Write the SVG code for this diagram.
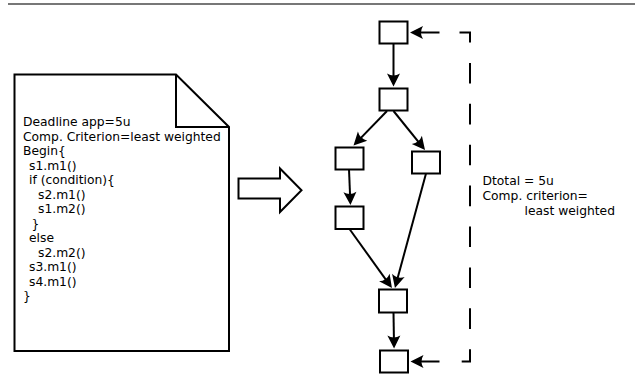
<svg xmlns="http://www.w3.org/2000/svg" width="643" height="378" viewBox="0 0 643 378">
<style>
.ln{fill:none;stroke:#000;stroke-width:2}
.nd{fill:#fff;stroke:#000;stroke-width:2}
.tx{font-family:"DejaVu Sans",sans-serif;font-size:12.3px;fill:#000}
</style>
<defs>
<marker id="ah" markerUnits="userSpaceOnUse" orient="auto" refX="0" refY="0" markerWidth="20" markerHeight="20" overflow="visible">
<path d="M4,0 L-9,-6.5 Q-5,0 -9,6.5 Z" fill="#000"/>
</marker>
</defs>
<rect x="8" y="3" width="627" height="2" fill="#777"/>
<g id="document">
<path class="nd" d="M14.5,74.5 H176 L229,127 V351 H14.5 Z"/>
<path class="ln" d="M176,74.5 V127 H229"/>
<text class="tx" x="23" y="126">Deadline app=5u</text>
<text class="tx" x="23" y="140.5">Comp. Criterion=least weighted</text>
<text class="tx" x="23" y="155">Begin{</text>
<text class="tx" x="29" y="169.5">s1.m1()</text>
<text class="tx" x="29" y="184">if (condition){</text>
<text class="tx" x="38" y="198.5">s2.m1()</text>
<text class="tx" x="38" y="213">s1.m2()</text>
<text class="tx" x="31.5" y="227.5">}</text>
<text class="tx" x="29" y="242">else</text>
<text class="tx" x="38" y="256.5">s2.m2()</text>
<text class="tx" x="29" y="271">s3.m1()</text>
<text class="tx" x="29" y="285.5">s4.m1()</text>
<text class="tx" x="23" y="300">}</text>
</g>
<g id="transform-arrow">
<path class="nd" d="M238.5,178.5 H280 V168.5 L301.5,190.3 L280,212 V198.5 H238.5 Z"/>
</g>
<g id="n1"><rect class="nd" x="379.5" y="21.5" width="28" height="22"/></g>
<g id="n2"><rect class="nd" x="379.5" y="88.5" width="28" height="22"/></g>
<g id="n3"><rect class="nd" x="335.5" y="147.5" width="28" height="22"/></g>
<g id="n4"><rect class="nd" x="412" y="151.5" width="28" height="22"/></g>
<g id="n5"><rect class="nd" x="335.5" y="206.5" width="28" height="22.5"/></g>
<g id="n6"><rect class="nd" x="379" y="289.5" width="28" height="23"/></g>
<g id="n7"><rect class="nd" x="380" y="350.5" width="28" height="22"/></g>
<g id="connectors">
<path class="ln" marker-end="url(#ah)" d="M393.5,43.5 L393.5,82.5"/>
<path class="ln" marker-end="url(#ah)" d="M387,111 L356.3,142.6"/>
<path class="ln" marker-end="url(#ah)" d="M393.5,111 L422.5,146.9"/>
<path class="ln" marker-end="url(#ah)" d="M349,169.5 L350.3,201"/>
<path class="ln" marker-end="url(#ah)" d="M426,173.5 L396,284.1"/>
<path class="ln" marker-end="url(#ah)" d="M349.5,229 L389.6,284.8"/>
<path class="ln" marker-end="url(#ah)" d="M393.5,312.5 L394,344.5"/>
<path class="ln" marker-end="url(#ah)" d="M439.5,32.5 L414,32.5"/>
<path class="ln" marker-end="url(#ah)" d="M439.5,361.5 L414.5,361.5"/>
</g>
<g id="deadline-bracket">
<path class="ln" stroke-dasharray="20.6 20.3" d="M459.5,32.5 H470 V361.5 H460"/>
<text class="tx" x="482.5" y="184.5">Dtotal = 5u</text>
<text class="tx" x="482.5" y="199.5">Comp. criterion=</text>
<text class="tx" x="524.5" y="214.5">least weighted</text>
</g>
</svg>
